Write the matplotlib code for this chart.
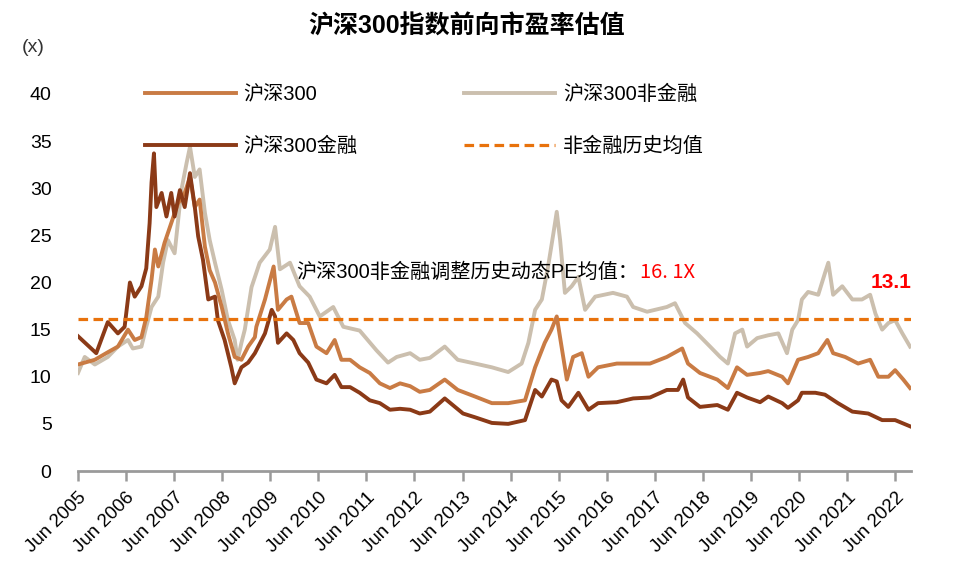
import matplotlib
matplotlib.use("Agg")
import matplotlib.pyplot as plt

plt.rcParams['font.family'] = ['Liberation Sans', 'Noto Sans CJK SC', 'DejaVu Sans']

title = "沪深300指数前向市盈率估值"
labels = ["沪深300", "沪深300非金融", "沪深300金融", "非金融历史均值"]
xtick_years = list(range(2005, 2023))
xtick_labels = [f"Jun {y}" for y in xtick_years]
yticks = [0, 5, 10, 15, 20, 25, 30, 35, 40]
mean_nonfin = 16.1
last_nonfin = 13.1

fin_dates = [2005.50, 2005.88, 2006.12, 2006.33, 2006.47, 2006.58, 2006.68, 2006.82, 2006.92, 2006.99,
             2007.03, 2007.08, 2007.13, 2007.24, 2007.34, 2007.44, 2007.51, 2007.62, 2007.72, 2007.83,
             2007.93, 2008.00, 2008.10, 2008.21, 2008.35, 2008.41, 2008.55, 2008.69, 2008.76, 2008.90,
             2009.04, 2009.18, 2009.21, 2009.39, 2009.53, 2009.60, 2009.66, 2009.84, 2009.98, 2010.11,
             2010.29, 2010.46, 2010.67, 2010.84, 2010.98, 2011.16, 2011.36, 2011.57, 2011.78, 2011.99,
             2012.20, 2012.41, 2012.61, 2012.82, 2013.13, 2013.51, 2013.76, 2014.11, 2014.45, 2014.80,
             2015.01, 2015.15, 2015.35, 2015.46, 2015.56, 2015.70, 2015.91, 2016.12, 2016.32, 2016.71,
             2017.05, 2017.40, 2017.75, 2017.98, 2018.09, 2018.19, 2018.44, 2018.80, 2019.02, 2019.21,
             2019.42, 2019.69, 2019.86, 2020.15, 2020.27, 2020.48, 2020.56, 2020.84, 2021.04, 2021.31,
             2021.61, 2021.94, 2022.23, 2022.50, 2022.83]
fin_vals = [14.3, 12.5, 15.8, 14.6, 15.3, 20.0, 18.5, 19.6, 21.5, 26.3,
            30.6, 33.7, 28.0, 29.5, 27.0, 29.5, 27.0, 29.8, 28.0, 31.6,
            28.0, 24.9, 22.4, 18.2, 18.5, 16.0, 13.9, 11.0, 9.3, 11.0,
            11.5, 12.5, 12.8, 14.6, 17.1, 16.4, 13.6, 14.6, 13.9, 12.5,
            11.5, 9.7, 9.3, 10.2, 8.9, 8.9, 8.3, 7.5, 7.2, 6.5,
            6.6, 6.5, 6.1, 6.3, 7.7, 6.1, 5.7, 5.1, 5.0, 5.4,
            8.6, 7.9, 9.7, 9.5, 7.5, 6.8, 8.3, 6.5, 7.2, 7.3,
            7.7, 7.8, 8.6, 8.6, 9.7, 7.8, 6.8, 7.0, 6.5, 8.3,
            7.8, 7.3, 7.9, 7.2, 6.7, 7.5, 8.3, 8.3, 8.1, 7.2,
            6.3, 6.1, 5.4, 5.4, 4.7]

hs_dates = [2005.50, 2005.85, 2006.12, 2006.33, 2006.54, 2006.68, 2006.82, 2006.92, 2007.03, 2007.10,
            2007.17, 2007.30, 2007.44, 2007.58, 2007.72, 2007.83, 2007.93, 2008.03, 2008.14, 2008.24,
            2008.35, 2008.49, 2008.62, 2008.76, 2008.90, 2009.04, 2009.18, 2009.21, 2009.39, 2009.57,
            2009.66, 2009.84, 2009.94, 2010.11, 2010.29, 2010.46, 2010.67, 2010.84, 2010.98, 2011.16,
            2011.36, 2011.57, 2011.78, 2011.99, 2012.20, 2012.41, 2012.61, 2012.82, 2013.13, 2013.40,
            2013.76, 2014.11, 2014.45, 2014.80, 2015.01, 2015.21, 2015.35, 2015.46, 2015.56, 2015.67,
            2015.80, 2015.98, 2016.12, 2016.32, 2016.71, 2017.05, 2017.40, 2017.75, 2018.07, 2018.19,
            2018.44, 2018.80, 2019.02, 2019.21, 2019.42, 2019.69, 2019.86, 2020.15, 2020.27, 2020.48,
            2020.69, 2020.90, 2021.09, 2021.21, 2021.46, 2021.73, 2021.98, 2022.15, 2022.36, 2022.50,
            2022.67, 2022.81]
hs_vals = [11.3, 11.8, 12.6, 13.2, 15.0, 13.9, 14.2, 16.3, 20.3, 23.5,
           21.7, 24.2, 26.3, 28.4, 29.5, 31.2, 28.0, 28.8, 23.8, 21.3,
           20.0, 17.4, 14.6, 12.1, 11.8, 13.2, 14.2, 15.3, 18.2, 21.7,
           17.1, 18.2, 18.5, 15.7, 15.7, 13.2, 12.5, 13.9, 11.8, 11.8,
           11.0, 10.4, 9.3, 8.8, 9.3, 9.0, 8.4, 8.6, 9.7, 8.6,
           7.9, 7.2, 7.2, 7.5, 11.0, 13.6, 15.0, 16.4, 13.2, 9.7,
           12.1, 12.5, 10.0, 11.0, 11.4, 11.4, 11.4, 12.1, 13.0, 11.4,
           10.4, 9.7, 8.8, 11.0, 10.2, 10.4, 10.6, 10.0, 9.3, 11.8,
           12.1, 12.5, 13.9, 12.5, 12.1, 11.4, 11.8, 10.0, 10.0, 10.7,
           9.7, 8.8]

nf_dates = [2005.50, 2005.64, 2005.85, 2006.12, 2006.33, 2006.54, 2006.64, 2006.82, 2006.92, 2007.03,
            2007.17, 2007.27, 2007.37, 2007.51, 2007.65, 2007.76, 2007.83, 2007.93, 2008.03, 2008.14,
            2008.24, 2008.35, 2008.49, 2008.62, 2008.76, 2008.82, 2008.90, 2008.97, 2009.11, 2009.28,
            2009.49, 2009.60, 2009.70, 2009.91, 2010.11, 2010.32, 2010.53, 2010.81, 2011.02, 2011.36,
            2011.71, 2011.95, 2012.13, 2012.41, 2012.61, 2012.82, 2013.13, 2013.40, 2013.76, 2014.11,
            2014.45, 2014.73, 2014.87, 2015.01, 2015.15, 2015.28, 2015.39, 2015.46, 2015.53, 2015.63,
            2015.77, 2015.91, 2016.05, 2016.26, 2016.63, 2016.92, 2017.05, 2017.34, 2017.75, 2017.92,
            2018.13, 2018.38, 2018.65, 2018.86, 2019.02, 2019.17, 2019.32, 2019.42, 2019.63, 2019.86,
            2020.07, 2020.25, 2020.36, 2020.48, 2020.56, 2020.69, 2020.90, 2021.04, 2021.11, 2021.21,
            2021.40, 2021.61, 2021.81, 2021.98, 2022.09, 2022.23, 2022.36, 2022.50, 2022.65, 2022.81]
nf_vals = [10.4, 12.1, 11.3, 12.1, 13.2, 13.9, 13.0, 13.2, 15.3, 17.4,
           18.5, 22.1, 24.5, 23.1, 29.8, 32.7, 34.4, 31.2, 32.0, 27.4,
           24.5, 22.1, 19.2, 16.0, 13.9, 11.8, 13.6, 15.0, 19.5, 22.1,
           23.5, 25.9, 21.4, 22.1, 19.6, 18.5, 16.4, 17.4, 15.3, 14.9,
           12.8, 11.5, 12.1, 12.5, 11.8, 12.0, 13.2, 11.8, 11.4, 11.0,
           10.5, 11.4, 13.6, 17.1, 18.2, 21.7, 25.2, 27.5, 24.5, 18.9,
           19.6, 20.6, 17.1, 18.5, 18.9, 18.5, 17.4, 16.9, 17.4, 17.8,
           15.7, 14.6, 13.2, 12.1, 11.4, 14.6, 15.0, 13.2, 14.1, 14.4,
           14.6, 12.5, 15.0, 16.0, 18.2, 19.0, 18.7, 21.0, 22.1, 18.7,
           19.6, 18.2, 18.2, 18.7, 16.7, 15.0, 15.7, 16.0, 14.6, 13.2]

c_hs = '#C97B44'
c_nf = '#CBBFAE'
c_fin = '#8B3A17'
c_mean = '#E8720C'

fig = plt.figure(figsize=(9.57, 5.79), dpi=100)
ax = fig.add_axes([78/957, 1 - 471/579, (911 - 78)/957, (471 - 94)/579])

l_nf, = ax.plot(nf_dates, nf_vals, color=c_nf, lw=2.8, zorder=2, solid_joinstyle='round')
l_hs, = ax.plot(hs_dates, hs_vals, color=c_hs, lw=2.8, zorder=3, solid_joinstyle='round')
l_fin, = ax.plot(fin_dates, fin_vals, color=c_fin, lw=2.8, zorder=4, solid_joinstyle='round')
xmin, xmax = 2005.5, 2022.83
l_mean, = ax.plot([xmin, xmax], [mean_nonfin, mean_nonfin], color=c_mean, lw=2.3,
                  dashes=(3, 1.7), zorder=5)

ax.set_xlim(xmin, xmax)
ax.set_ylim(0, 40)
ax.set_yticks(yticks)
ax.set_yticklabels([str(v) for v in yticks], fontsize=14)
ax.tick_params(axis='y', length=0, pad=19)
ax.set_xticks([y + 0.5 for y in xtick_years])
ax.set_xticklabels(xtick_labels, rotation=45, ha='right', va='top', rotation_mode='anchor', fontsize=13.5)
ax.tick_params(axis='x', direction='out', length=7, width=1.8, color='#9A9A9A', pad=6)
for s in ['top', 'right', 'left']:
    ax.spines[s].set_visible(False)
ax.spines['bottom'].set_color('#9A9A9A')
ax.spines['bottom'].set_linewidth(2)

leg = ax.legend([l_hs, l_fin, l_nf, l_mean], [labels[0], labels[2], labels[1], labels[3]],
                ncol=2, loc='upper left', bbox_to_anchor=(145/957, 1 - 85/579),
                bbox_transform=fig.transFigure, frameon=False, fontsize=14.5,
                handlelength=4.5, handletextpad=0.4, columnspacing=5.3, labelspacing=1.6,
                borderaxespad=0, borderpad=0)

t1 = ax.text(2010.05, 21.1, "沪深300非金融调整历史动态PE均值：", fontsize=14.5, va='center', ha='left',
             color='black', zorder=6)
ax.annotate("16. 1X", xy=(1, 0.5), xycoords=t1, xytext=(1, 0), textcoords='offset points',
            va='center', ha='left', color='#FF0000', fontsize=14.5, family=['Noto Sans CJK SC'])
ax.text(2022.0, 20.0, f"{last_nonfin}", fontsize=15, fontweight='bold', color='#FF0000',
        va='center', ha='left')

fig.text(0.488, 1 - 27/579, title, fontsize=18, fontweight='bold', ha='center', va='center')
fig.text(22/957, 1 - 47/579, "(x)", fontsize=14, ha='left', va='center', color='#333333')

fig.savefig("out.png", dpi=100)
